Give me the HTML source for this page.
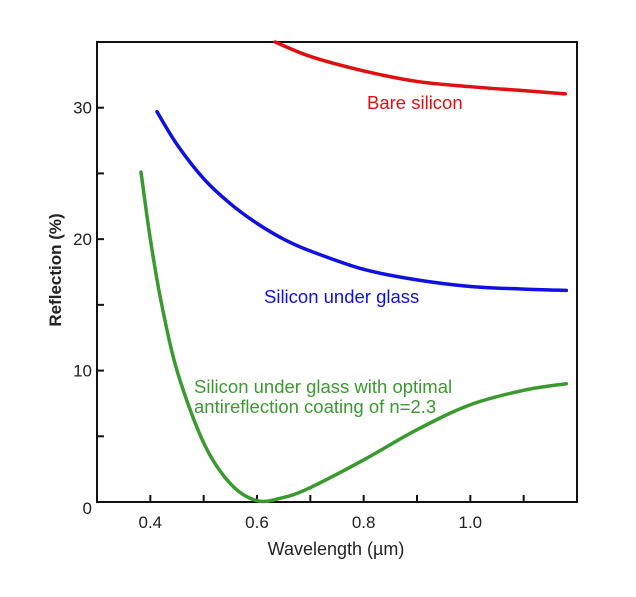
<!DOCTYPE html>
<html><head><meta charset="utf-8"><style>
html,body{margin:0;padding:0;background:#fff;}
svg{display:block;font-family:"Liberation Sans",Arial,sans-serif;}
</style></head><body>
<svg id="chart" width="636" height="597">
<g id="axes"></g>
<g id="series"></g>
<text x="367" y="109" fill="#e01010" font-size="18.5">Bare silicon</text>
<text x="264" y="303" fill="#1010e0" font-size="18.5">Silicon under glass</text>
<text x="194" y="393" fill="#3a9a30" font-size="18.5">Silicon under glass with optimal</text>
<text x="194" y="413" fill="#3a9a30" font-size="18.5">antireflection coating of n=2.3</text>
<text x="336" y="555" text-anchor="middle" font-size="18" fill="#222">Wavelength (µm)</text>
<text transform="translate(61,270) rotate(-90)" text-anchor="middle" font-size="17" font-weight="bold" fill="#222">Reflection (%)</text>
</svg>
<script>
const xTicks=[0.4,0.5,0.6,0.7,0.8,0.9,1.0,1.1];
const xTickLabels=["0.4","","0.6","","0.8","","1.0",""];
const yTicks=[0,5,10,15,20,25,30];
const yTickLabels=["0","","10","","20","","30"];
const bareX=[0.634,0.7,0.8,0.9,1.0,1.1,1.178];
const bareY=[35,33.9,32.8,32.0,31.6,31.3,31.05];
const glassX=[0.4125,0.45,0.5,0.55,0.6,0.65,0.7,0.8,0.9,1.0,1.1,1.18];
const glassY=[29.7,27.2,24.6,22.7,21.2,20.0,19.1,17.7,16.9,16.4,16.2,16.1];
const coatX=[0.3825,0.4,0.42,0.45,0.5,0.55,0.6,0.65,0.7,0.8,0.9,1.0,1.1,1.18];
const coatY=[25.1,20,15.3,10,4.5,1.4,0.1,0.35,1.1,3.2,5.5,7.4,8.5,9.0];
const X0=97,X1=577,Y0=502,Y1=42;
const sx=v=>X0+(v-0.3)/(1.2-0.3)*(X1-X0);
const sy=v=>Y0-(v/35)*(Y0-Y1);
const NS="http://www.w3.org/2000/svg";
const axes=document.getElementById('axes');
function mk(t,a,p){const e=document.createElementNS(NS,t);for(const k in a)e.setAttribute(k,a[k]);p.appendChild(e);return e;}
const frame=mk('rect',{x:X0,y:Y1,width:X1-X0,height:Y0-Y1,fill:'none',stroke:'#111','stroke-width':2},axes);


xTicks.forEach((v,i)=>{
  const t=mk('line',{x1:sx(v),x2:sx(v),y1:Y0,y2:Y0-7,stroke:'#111','stroke-width':2},axes);
  
  
  if(xTickLabels[i]){const l=mk('text',{x:sx(v),y:Y0+26,'text-anchor':'middle','font-size':17,fill:'#222'},axes);l.textContent=xTickLabels[i];
  
  }
});
yTicks.forEach((v,i)=>{
  const t=mk('line',{x1:X0,x2:X0+7,y1:sy(v),y2:sy(v),stroke:'#111','stroke-width':2},axes);
  
  
  if(yTickLabels[i]){const l=mk('text',{x:X0-5,y:sy(v)+(v===0?12:6),'text-anchor':'end','font-size':17,fill:'#222'},axes);l.textContent=yTickLabels[i];
  
  }
});
function pathFor(xs,ys){
  const p=xs.map((x,i)=>[sx(x),sy(ys[i])]);
  let d='M'+p[0][0]+','+p[0][1];
  for(let i=0;i<p.length-1;i++){
    const a=p[Math.max(0,i-1)],b=p[i],c=p[i+1],e=p[Math.min(p.length-1,i+2)];
    const c1=[b[0]+(c[0]-a[0])/6,b[1]+(c[1]-a[1])/6],c2=[c[0]-(e[0]-b[0])/6,c[1]-(e[1]-b[1])/6];
    d+=' C'+c1+' '+c2+' '+c;
  }
  return d;
}
const ser=document.getElementById('series');
const s1=mk('path',{d:pathFor(bareX,bareY),fill:'none',stroke:'#e01010','stroke-width':3.5,'stroke-linecap':'round'},ser);


const s2=mk('path',{d:pathFor(glassX,glassY),fill:'none',stroke:'#1010e0','stroke-width':3.5,'stroke-linecap':'round'},ser);


const s3=mk('path',{d:pathFor(coatX,coatY),fill:'none',stroke:'#3a9a30','stroke-width':3.5,'stroke-linecap':'round'},ser);


</script>
</body></html>
